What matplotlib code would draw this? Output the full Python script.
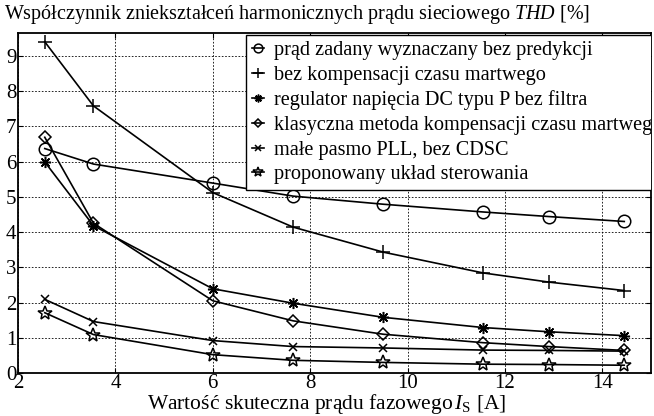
import matplotlib
matplotlib.use('Agg')
import matplotlib.pyplot as plt

plt.rcParams['font.family'] = 'Liberation Serif'
plt.rcParams['mathtext.fontset'] = 'custom'
plt.rcParams['mathtext.rm'] = 'Liberation Serif'
plt.rcParams['mathtext.it'] = 'Liberation Serif:italic'

prad = [2.55, 3.55, 6.0, 7.65, 9.5, 11.55, 12.9, 14.45]

bez_predykcji = [6.37, 5.93, 5.39, 5.02, 4.79, 4.57, 4.44, 4.30]
bez_kompensacji = [9.40, 7.58, 5.12, 4.14, 3.43, 2.84, 2.58, 2.34]
regulator_p = [5.99, 4.18, 2.39, 1.98, 1.58, 1.29, 1.17, 1.06]
klasyczna = [6.69, 4.25, 2.05, 1.48, 1.10, 0.86, 0.75, 0.64]
male_pll = [2.09, 1.46, 0.92, 0.75, 0.71, 0.65, 0.64, 0.62]
proponowany = [1.71, 1.09, 0.52, 0.36, 0.30, 0.25, 0.24, 0.22]

etykiety = ['prąd zadany wyznaczany bez predykcji',
            'bez kompensacji czasu martwego',
            'regulator napięcia DC typu P bez filtra',
            'klasyczna metoda kompensacji czasu martwego',
            'małe pasmo PLL, bez CDSC',
            'proponowany układ sterowania']

fig = plt.figure(figsize=(6.54, 4.16), dpi=100)
ax = fig.add_axes([0.0275, 0.1034, 0.968, 0.8173])

serie = [bez_predykcji, bez_kompensacji, regulator_p, klasyczna, male_pll, proponowany]
markery = ['o', '+', (8, 2, 0), 'D', 'x', '*']
rozmiary = [9, 10, 8, 6, 6, 10]
for y, m, s, lab in zip(serie, markery, rozmiary, etykiety):
    ax.plot(prad, y, color='black', lw=1.2, marker=m, ms=s, mfc='none',
            mec='black', mew=1.1, label=lab)

ax.set_xlim(2, 15)
ax.set_ylim(0, 9.65)
ax.set_xticks([2, 4, 6, 8, 10, 12, 14])
ax.set_yticks(range(10))
ax.tick_params(direction='in', top=True, right=True, labelsize=15, pad=1)
ax.grid(True, color='black', ls=(0, (2, 2)), lw=0.6)
for sp in ax.spines.values():
    sp.set_linewidth(1.3)

# legenda wychodzi poza osie i jest przycieta jak w oryginale
leg = ax.legend(loc='upper left', bbox_to_anchor=(0.36, 0.994), fontsize=14.6,
                handlelength=0.6, handletextpad=0.5, labelspacing=0.27,
                borderpad=0.3, borderaxespad=0, frameon=True, fancybox=False,
                edgecolor='black', framealpha=1, markerscale=0.7)
leg.get_frame().set_linewidth(1.0)
leg.get_frame().set_clip_box(ax.bbox)
leg.get_frame().set_clip_on(True)
for t in leg.get_texts():
    t.set_clip_box(ax.bbox)
    t.set_clip_on(True)

fig.text(0.006, 0.966, 'Współczynnik zniekształceń harmonicznych prądu sieciowego $\\it{THD}$ [%]',
         fontsize=14.5, va='center', ha='left')
fig.text(0.5, 0.028, 'Wartość skuteczna prądu fazowego$\\,\\mathit{I}_{\\rm S}$ [A]',
         fontsize=15.5, va='center', ha='center')

fig.savefig('out.png', dpi=100)
